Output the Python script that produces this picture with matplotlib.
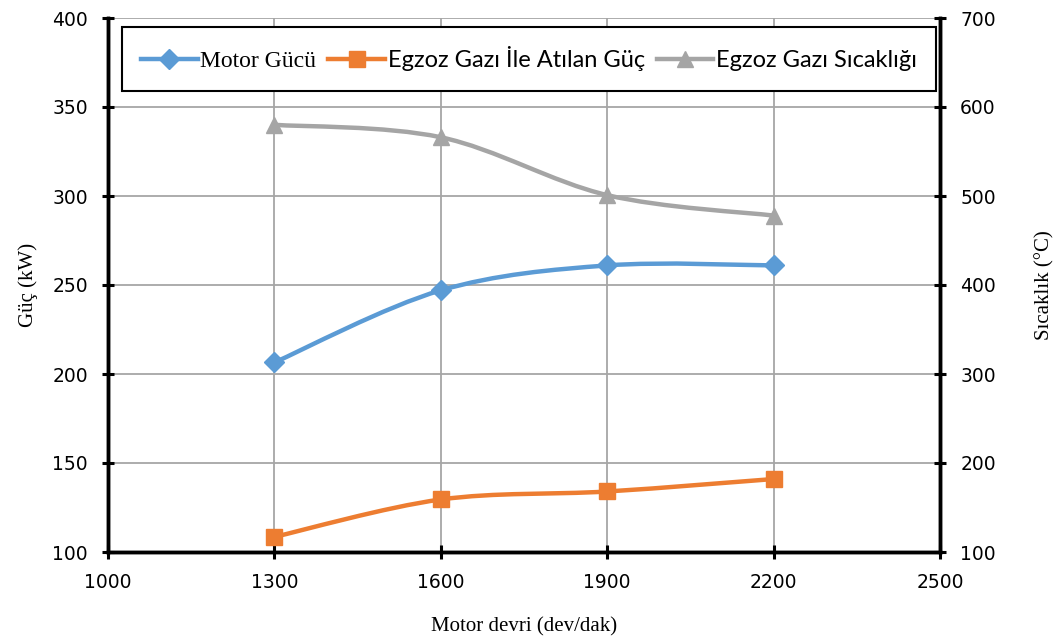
import matplotlib
import numpy as np

matplotlib.use('Agg')
import matplotlib.pyplot as plt
from matplotlib.path import Path
from matplotlib.patches import PathPatch
from matplotlib.lines import Line2D

# data
rpm = [1300, 1600, 1900, 2200]
motor_gucu = [206.5, 247, 261, 261]
egzoz_guc = [108.5, 129.5, 134, 141]
egzoz_sicaklik = [580, 566, 501, 478]

labels = ['Motor Gücü', 'Egzoz Gazı İle Atılan Güç', 'Egzoz Gazı Sıcaklığı']
colors = ['#5B9BD5', '#ED7D31', '#A5A5A5']
markers = ['D', 's', '^']
msizes = [10, 12, 12]


def smooth_path(xs, ys):
    # excel style smoothed line: bezier segments through the points
    pts = np.column_stack([xs, ys]).astype(float)
    n = len(pts)
    verts = [pts[0]]
    codes = [Path.MOVETO]
    for i in range(n - 1):
        p0 = pts[max(i - 1, 0)]
        p1 = pts[i]
        p2 = pts[i + 1]
        p3 = pts[min(i + 2, n - 1)]
        verts += [p1 + (p2 - p0) / 6, p2 - (p3 - p1) / 6, p2]
        codes += [Path.CURVE4] * 3
    return Path(verts, codes)


def draw_series(ax, xs, ys, color, marker, ms):
    ax.add_patch(PathPatch(smooth_path(xs, ys), fill=False, edgecolor=color,
                           lw=3.2, capstyle='round', joinstyle='round', zorder=3))
    ax.plot(xs, ys, linestyle='none', marker=marker, color=color, ms=ms, zorder=4)


fig = plt.figure(figsize=(10.56, 6.4), dpi=100)
ax = fig.add_axes([108 / 1056, 88 / 640, 832 / 1056, 534 / 640])
ax2 = ax.twinx()

draw_series(ax, rpm, motor_gucu, colors[0], markers[0], msizes[0])
draw_series(ax, rpm, egzoz_guc, colors[1], markers[1], msizes[1])
draw_series(ax2, rpm, egzoz_sicaklik, colors[2], markers[2], msizes[2])

ax.set_xlim(1000, 2500)
ax.set_ylim(100, 400)
ax2.set_ylim(100, 700)
ax.set_xticks(np.arange(1000, 2501, 300))
ax.set_yticks(np.arange(100, 401, 50))
ax2.set_yticks(np.arange(100, 701, 100))

ax.grid(True, color='#A6A6A6', lw=1.3)
ax.set_axisbelow(True)

for a in (ax, ax2):
    for s in a.spines.values():
        s.set_linewidth(2.5)
    a.spines['top'].set_visible(False)
ax.tick_params(axis='y', direction='inout', length=9, width=2.2, pad=10, labelsize=13.5)
ax.tick_params(axis='x', direction='inout', length=10, width=2.2, pad=10, labelsize=13.5)
ax2.tick_params(axis='y', direction='inout', length=9, width=2.2, pad=10, labelsize=13.5)

serif = 'Liberation Serif'
ax.set_xlabel('Motor devri (dev/dak)', family=serif, fontsize=15, labelpad=18)
ax.set_ylabel('Güç (kW)', family=serif, fontsize=15, labelpad=10)
ax2.set_ylabel('Sıcaklık (°C)', family=serif, fontsize=15, labelpad=28)

handles = [Line2D([], [], color=c, marker=m, ms=s, lw=3.2)
           for c, m, s in zip(colors, markers, msizes)]
leg = ax2.legend(handles, labels, loc='upper left', bbox_to_anchor=(0.0168, 0.983),
                 borderaxespad=0, ncol=3, fancybox=False, framealpha=1,
                 edgecolor='black', handlelength=2.4, handletextpad=0.12,
                 columnspacing=0.5, borderpad=0.8,
                 prop={'family': 'Lato', 'size': 17})
leg.get_frame().set_linewidth(1.5)
leg.get_texts()[0].set_family(serif)

fig.savefig('out.png', dpi=100)
